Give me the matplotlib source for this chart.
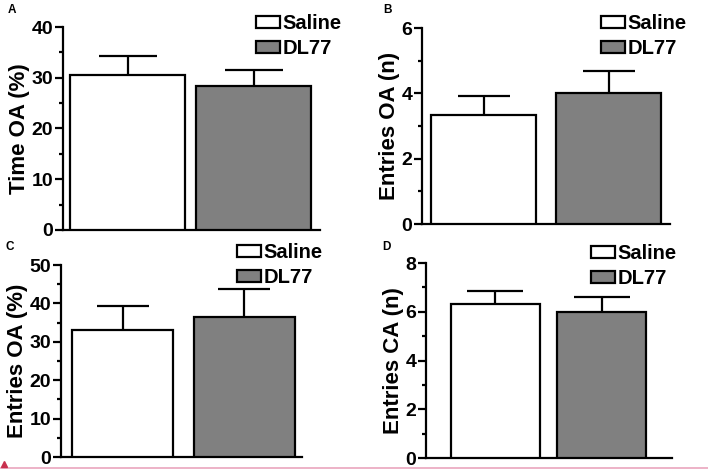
import numpy as np
import matplotlib
matplotlib.use("Agg")
import matplotlib.pyplot as plt
from matplotlib.ticker import MultipleLocator, AutoMinorLocator
from matplotlib.lines import Line2D

plt.rcParams.update({"font.family": ["Liberation Sans", "DejaVu Sans"],
                     "font.weight": "bold", "axes.labelweight": "bold"})

groups = ["Saline", "DL77"]
colors = ["white", "#808080"]

time_oa = [30.5, 28.4]
time_oa_err = [3.8, 3.1]
entries_oa_n = [3.33, 4.0]
entries_oa_n_err = [0.6, 0.67]
entries_oa_pct = [33.2, 36.5]
entries_oa_pct_err = [6.0, 7.3]
entries_ca_n = [6.33, 6.0]
entries_ca_n_err = [0.53, 0.62]

W, H = 708, 469
fig = plt.figure(figsize=(W / 100, H / 100), dpi=100)


def px_axes(x0, x1, y0, y1):
    return fig.add_axes([x0 / W, 1 - y1 / H, (x1 - x0) / W, (y1 - y0) / H])


panels = [
    # letter, values, errors, ylabel, ymax, ystep, axes box px, bar centers px, bar width px,
    # letter pos px, legend anchor px, cap px
    ("A", time_oa, time_oa_err, "Time OA (%)", 40, 10, (63, 320, 27, 230), (127.5, 253.5), 115,
     (8, 10), (256, 14), 42),
    ("B", entries_oa_n, entries_oa_n_err, "Entries OA (n)", 6, 2, (422, 670, 28, 224), (483.5, 608.5), 105,
     (383, 10), (601, 14), 37),
    ("C", entries_oa_pct, entries_oa_pct_err, "Entries OA (%)", 50, 10, (61, 302, 265, 457), (122.5, 244), 101,
     (5, 247), (237, 243), 37),
    ("D", entries_ca_n, entries_ca_n_err, "Entries CA (n)", 8, 2, (426, 672, 263, 458), (495.5, 602), 89,
     (382, 247), (591, 244), 40),
]

for letter, vals, errs, ylab, ymax, ystep, box, centers, bw, lpos, legpos, cap in panels:
    x0, x1, y0, y1 = box
    ax = px_axes(x0, x1, y0, y1)
    c0, c1 = centers
    unit = c1 - c0
    ax.set_xlim((x0 - c0) / unit, (x1 - c0) / unit)
    ax.set_ylim(0, ymax)
    xs = np.arange(len(vals))
    bars = ax.bar(xs, vals, width=bw / unit, color=colors, edgecolor="black",
                  linewidth=1.6, zorder=3, label=groups)
    ax.errorbar(xs, vals, yerr=errs, fmt="none", ecolor="black", elinewidth=1.6,
                capsize=cap / 2, capthick=1.6, zorder=2)
    for s in ["top", "right"]:
        ax.spines[s].set_visible(False)
    for s in ["left", "bottom"]:
        ax.spines[s].set_linewidth(1.6)
    ax.set_xticks([])
    ax.yaxis.set_major_locator(MultipleLocator(ystep))
    ax.yaxis.set_minor_locator(AutoMinorLocator(2))
    ax.tick_params(axis="y", which="major", length=6, width=1.6, labelsize=14, pad=1)
    ax.tick_params(axis="y", which="minor", length=3, width=1.6)
    for t in ax.get_yticklabels():
        t.set_fontweight("bold")
    ax.set_ylabel(ylab, fontsize=16, fontweight="bold", labelpad=1)
    fig.text(lpos[0] / W, 1 - lpos[1] / H, letter, fontsize=8.5, fontweight="bold",
             va="center", ha="left")
    ax.legend(handles=list(bars), labels=groups, loc="upper left",
              bbox_to_anchor=(legpos[0] / W, 1 - legpos[1] / H), bbox_transform=fig.transFigure,
              frameon=False, fontsize=14.5, handlelength=1.2, handleheight=0.55,
              handletextpad=0.1, labelspacing=0.3, borderpad=0, borderaxespad=0)

# page edge line from the source document
fig.add_artist(Line2D([0, 1], [1.5 / H, 1.5 / H], transform=fig.transFigure,
                      color="#eaa5bd", linewidth=1.2))
fig.add_artist(Line2D([4 / W], [5 / H], transform=fig.transFigure, marker="^",
                      color="#c8304e", markersize=5, linestyle="none"))

fig.savefig("out.png", dpi=100)
